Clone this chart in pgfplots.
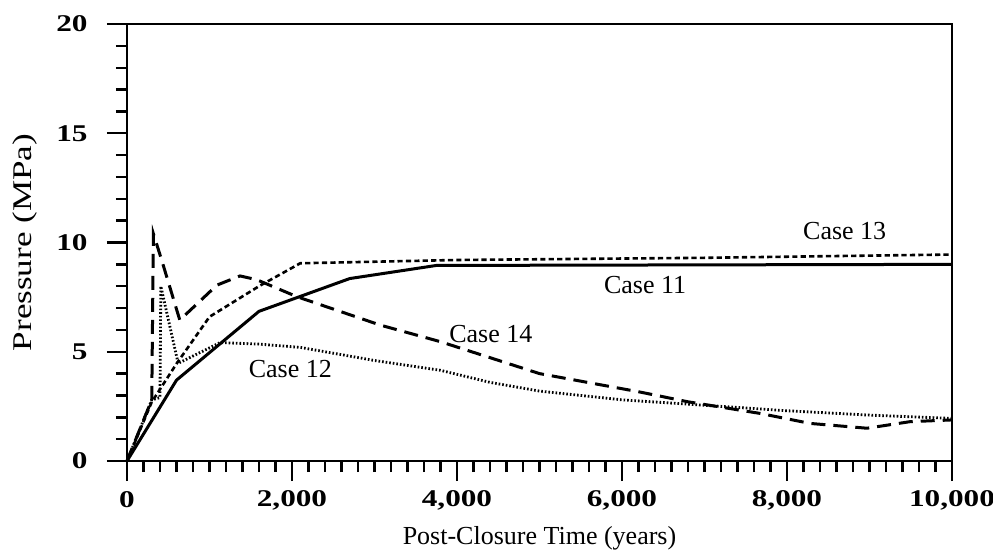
\documentclass[border=0pt]{standalone}
\usepackage{fontspec}
\setmainfont{Liberation Serif}
\newfontfamily\tickfont[FakeStretch=1.3]{Liberation Serif}
\usepackage{pgfplots}
\pgfplotsset{compat=1.18}
\begin{document}
\begin{tikzpicture}
\begin{axis}[
  scale only axis,
  width=412.5pt, height=218.5pt,
  xmin=0, xmax=10000, ymin=0, ymax=20,
  scaled x ticks=false, scaled y ticks=false,
  axis line style={line width=1.4pt},
  xtick={0,2000,4000,6000,8000,10000},
  xticklabels={0,{2,000},{4,000},{6,000},{8,000},{10,000}},
  minor xtick={200,400,...,9800},
  ytick={0,5,10,15,20},
  yticklabels={0,5,10,15,20},
  minor ytick={1,2,3,4,6,7,8,9,11,12,13,14,16,17,18,19},
  tick align=outside,
  xtick pos=bottom, ytick pos=left,
  major tick length=10pt, minor tick length=5.5pt,
  every tick/.style={line width=1.2pt, black},
  xticklabel style={font=\tickfont\bfseries\fontsize{12}{14}\selectfont, anchor=center, inner sep=0pt, yshift=-9.5pt},
  yticklabel style={font=\tickfont\bfseries\fontsize{12}{14}\selectfont, anchor=east, inner sep=0pt, xshift=-9.5pt},
  xlabel={Post-Closure Time (years)},
  ylabel={Pressure (MPa)},
  xlabel style={font=\fontsize{13}{15}\selectfont, at={(axis description cs:0.5,-0.176)}, anchor=center},
  ylabel style={font=\tickfont\fontsize{13.5}{15}\selectfont, at={(axis description cs:-0.1236,0.5)}, anchor=center},
  clip=false,
]
% Case 11 solid
\addplot[black, line width=1.5pt] coordinates {
(0,0) (600,3.7) (1600,6.85) (2700,8.35) (3750,8.95) (10000,9.0)};
% Case 13 short dash
\addplot[black, line width=1.3pt, dash pattern=on 2.6pt off 1.6pt] coordinates {
(0,0) (300,2.7) (600,4.45) (1000,6.6) (1600,8.0) (2100,9.05) (4000,9.2) (7000,9.3) (10000,9.45)};
% Case 14 long dash
\addplot[black, line width=1.5pt, dash pattern=on 7pt off 4pt] coordinates {
(0,0) (300,2.8) (320,10.4) (420,9.2) (640,6.45) (1090,8.05) (1370,8.47) (1570,8.3) (2060,7.52) (3070,6.22) (3800,5.46) (5000,4.0) (6200,3.17) (6800,2.71) (7670,2.18) (8280,1.72) (8970,1.5) (9490,1.8) (10000,1.88)};
% Case 12 dotted
\addplot[black, line width=1.4pt, dash pattern=on 0.8pt off 1pt] coordinates {
(0,0) (300,2.8) (400,2.9) (410,8.0) (620,4.47) (1130,5.42) (1600,5.35) (2100,5.2) (3000,4.6) (3800,4.15) (4400,3.6) (5000,3.2) (6000,2.8) (7000,2.55) (8000,2.3) (9000,2.1) (10000,1.95)};
\node[font=\fontsize{13}{15}\selectfont] at (axis cs:8700,10.53) {Case 13};
\node[font=\fontsize{13}{15}\selectfont] at (axis cs:6280,8.05) {Case 11};
\node[font=\fontsize{13}{15}\selectfont] at (axis cs:4410,5.81) {Case 14};
\node[font=\fontsize{13}{15}\selectfont] at (axis cs:1980,4.2) {Case 12};
\end{axis}
\pgfresetboundingbox
\path (-63.5pt,-46.5pt) rectangle (433pt,230.5pt);
\end{tikzpicture}
\end{document}
